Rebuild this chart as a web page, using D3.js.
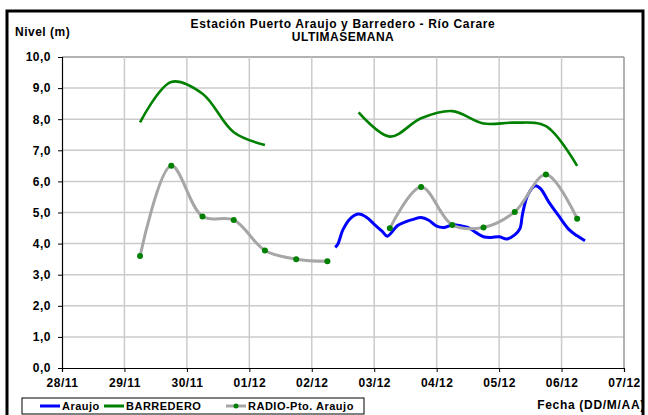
<!DOCTYPE html>
<html>
<head>
<meta charset="utf-8">
<script src="https://cdn.jsdelivr.net/npm/d3@7"></script>
<style>
  body { margin: 0; background: #fff; }
  text { font-family: "Liberation Sans", Arial, sans-serif; font-weight: bold; fill: #000; }
</style>
</head>
<body>
<div id="chart"></div>
<script>
// 12-hourly readings (BARREDERO and RADIO-Pto. Araujo)
const times12 = ["29/11 06:00", "29/11 18:00", "30/11 06:00", "30/11 18:00", "01/12 06:00", "01/12 18:00",
  "02/12 06:00", "02/12 18:00", "03/12 06:00", "03/12 18:00", "04/12 06:00", "04/12 18:00",
  "05/12 06:00", "05/12 18:00", "06/12 06:00"];
const barredero = [7.90, 9.20, 8.82, 7.58, 7.17, null, null, 8.22, 7.44, 8.03, 8.26, 7.86, 7.89, 7.78, 6.50];
const radio = [3.60, 6.50, 4.87, 4.76, 3.78, 3.50, 3.43, null, 4.49, 5.82, 4.60, 4.52, 5.02, 6.22, 4.80];

// Araujo sensor readings
const araujoTimes = ["02/12 09:00", "02/12 10:00", "02/12 12:00", "02/12 15:00", "02/12 18:00", "02/12 21:00",
  "03/12 00:00", "03/12 03:00", "03/12 05:00", "03/12 09:00", "03/12 12:00", "03/12 15:00", "03/12 18:00",
  "03/12 21:00", "04/12 00:00", "04/12 03:00", "04/12 06:00", "04/12 09:00", "04/12 12:00", "04/12 15:00",
  "04/12 18:00", "04/12 21:00", "05/12 00:00", "05/12 03:00", "05/12 06:00", "05/12 08:00", "05/12 09:00",
  "05/12 11:00", "05/12 14:00", "05/12 16:00", "05/12 19:00", "05/12 23:00", "06/12 03:00", "06/12 06:00",
  "06/12 09:00"];
const araujo = [3.88, 3.98, 4.45, 4.82, 4.95, 4.85, 4.62, 4.40, 4.24, 4.58, 4.70, 4.78, 4.84, 4.75, 4.56,
  4.52, 4.60, 4.58, 4.52, 4.36, 4.22, 4.20, 4.22, 4.15, 4.28, 4.48, 4.95, 5.56, 5.86, 5.76, 5.35, 4.88,
  4.44, 4.25, 4.09];

const yTicks = [0, 1, 2, 3, 4, 5, 6, 7, 8, 9, 10];
const dateRange = ["28/11 00:00", "07/12 00:00"];

const width = 648, height = 415;
const plotLeft = 62, plotRight = 624, plotTop = 57, plotBottom = 368;

const parse = d3.timeParse("%d/%m %H:%M");
const fmt = d => d3.format(".1f")(d).replace(".", ",");

const svg = d3.select("#chart").append("svg")
  .attr("width", width)
  .attr("height", height);

// outer frame
svg.append("rect")
  .attr("x", 7).attr("y", 11)
  .attr("width", 636).attr("height", 420)
  .attr("fill", "none")
  .attr("stroke", "#000")
  .attr("stroke-width", 3);

const x = d3.scaleTime()
  .domain(dateRange.map(parse))
  .range([plotLeft, plotRight]);

const y = d3.scaleLinear()
  .domain([0, 10])
  .range([plotBottom, plotTop]);

// gridlines
svg.append("g")
  .selectAll("line")
  .data(yTicks.slice(1))
  .enter().append("line")
  .attr("x1", plotLeft).attr("x2", plotRight)
  .attr("y1", d => y(d)).attr("y2", d => y(d))
  .attr("stroke", d => d === 10 ? "#999" : "#cbcbcb")
  .attr("stroke-width", 1.5);

svg.append("g")
  .selectAll("line")
  .data(x.ticks(d3.timeDay.every(1)).slice(1))
  .enter().append("line")
  .attr("x1", d => x(d)).attr("x2", d => x(d))
  .attr("y1", plotTop).attr("y2", plotBottom)
  .attr("stroke", (d, i, a) => i === a.length - 1 ? "#999" : "#cbcbcb")
  .attr("stroke-width", 1.5);

// axes
const yAxis = svg.append("g")
  .attr("transform", `translate(${plotLeft},0)`)
  .call(d3.axisLeft(y).tickValues(yTicks).tickFormat(fmt).tickSize(4).tickPadding(7));

const xAxis = svg.append("g")
  .attr("transform", `translate(0,${plotBottom})`)
  .call(d3.axisBottom(x).ticks(d3.timeDay.every(1)).tickFormat(d3.timeFormat("%d/%m")).tickSize(4).tickPadding(6));

[yAxis, xAxis].forEach(g => {
  g.select(".domain").attr("stroke", "#000").attr("stroke-width", 1.2);
  g.selectAll(".tick line").attr("stroke", "#000");
  g.selectAll("text")
    .style("font-size", "12px")
    .style("letter-spacing", "0.5px")
    .attr("fill", "#000");
});

// series
const line = d3.line()
  .defined(d => d.v != null)
  .x(d => x(d.t))
  .y(d => y(d.v))
  .curve(d3.curveCatmullRom);

const araujoData = araujoTimes.map((t, i) => ({ t: parse(t), v: araujo[i] }));
const barrData = times12.map((t, i) => ({ t: parse(t), v: barredero[i] }));
const radioData = times12.map((t, i) => ({ t: parse(t), v: radio[i] }));

svg.append("path")
  .datum(araujoData)
  .attr("d", line)
  .attr("fill", "none")
  .attr("stroke", "#0000ff")
  .attr("stroke-width", 3);

svg.append("path")
  .datum(barrData)
  .attr("d", line)
  .attr("fill", "none")
  .attr("stroke", "#008000")
  .attr("stroke-width", 2.6);

svg.append("path")
  .datum(radioData)
  .attr("d", line)
  .attr("fill", "none")
  .attr("stroke", "#a6a6a6")
  .attr("stroke-width", 3);

svg.append("g")
  .selectAll("circle")
  .data(radioData.filter(d => d.v != null))
  .enter().append("circle")
  .attr("cx", d => x(d.t))
  .attr("cy", d => y(d.v))
  .attr("r", 3)
  .attr("fill", "#008000");

// titles
svg.append("text")
  .attr("x", (plotLeft + plotRight) / 2)
  .attr("y", 28)
  .attr("text-anchor", "middle")
  .style("font-size", "12px")
  .style("letter-spacing", "0.65px")
  .text("Estación Puerto Araujo y Barredero - Río Carare");

svg.append("text")
  .attr("x", (plotLeft + plotRight) / 2)
  .attr("y", 41)
  .attr("text-anchor", "middle")
  .style("font-size", "12px")
  .style("letter-spacing", "0.5px")
  .text("ULTIMASEMANA");

svg.append("text")
  .attr("x", 15)
  .attr("y", 36)
  .style("font-size", "12px")
  .style("letter-spacing", "0.5px")
  .text("Nivel (m)");

svg.append("text")
  .attr("x", 645)
  .attr("y", 409)
  .attr("text-anchor", "end")
  .style("font-size", "12px")
  .style("letter-spacing", "0.7px")
  .text("Fecha (DD/M/AA)");

// legend
const legendItems = [
  { name: "Araujo", color: "#0000ff", dot: false, x: 18 },
  { name: "BARREDERO", color: "#008000", dot: false, x: 82 },
  { name: "RADIO-Pto. Araujo", color: "#a6a6a6", dot: true, x: 204 }
];

const legend = svg.append("g").attr("transform", "translate(22,398)");

legend.append("rect")
  .attr("width", 342).attr("height", 16)
  .attr("fill", "#fff")
  .attr("stroke", "#000")
  .attr("stroke-width", 1);

const li = legend.selectAll(".item")
  .data(legendItems)
  .enter().append("g")
  .attr("transform", d => `translate(${d.x},8)`);

li.append("line")
  .attr("x1", 0).attr("x2", 20)
  .attr("stroke", d => d.color)
  .attr("stroke-width", 3);

li.filter(d => d.dot).append("circle")
  .attr("cx", 10).attr("r", 2.5)
  .attr("fill", "#008000");

li.append("text")
  .attr("x", 22)
  .attr("dy", "0.35em")
  .style("font-size", "11px")
  .style("letter-spacing", "0.5px")
  .text(d => d.name);
</script>
</body>
</html>
